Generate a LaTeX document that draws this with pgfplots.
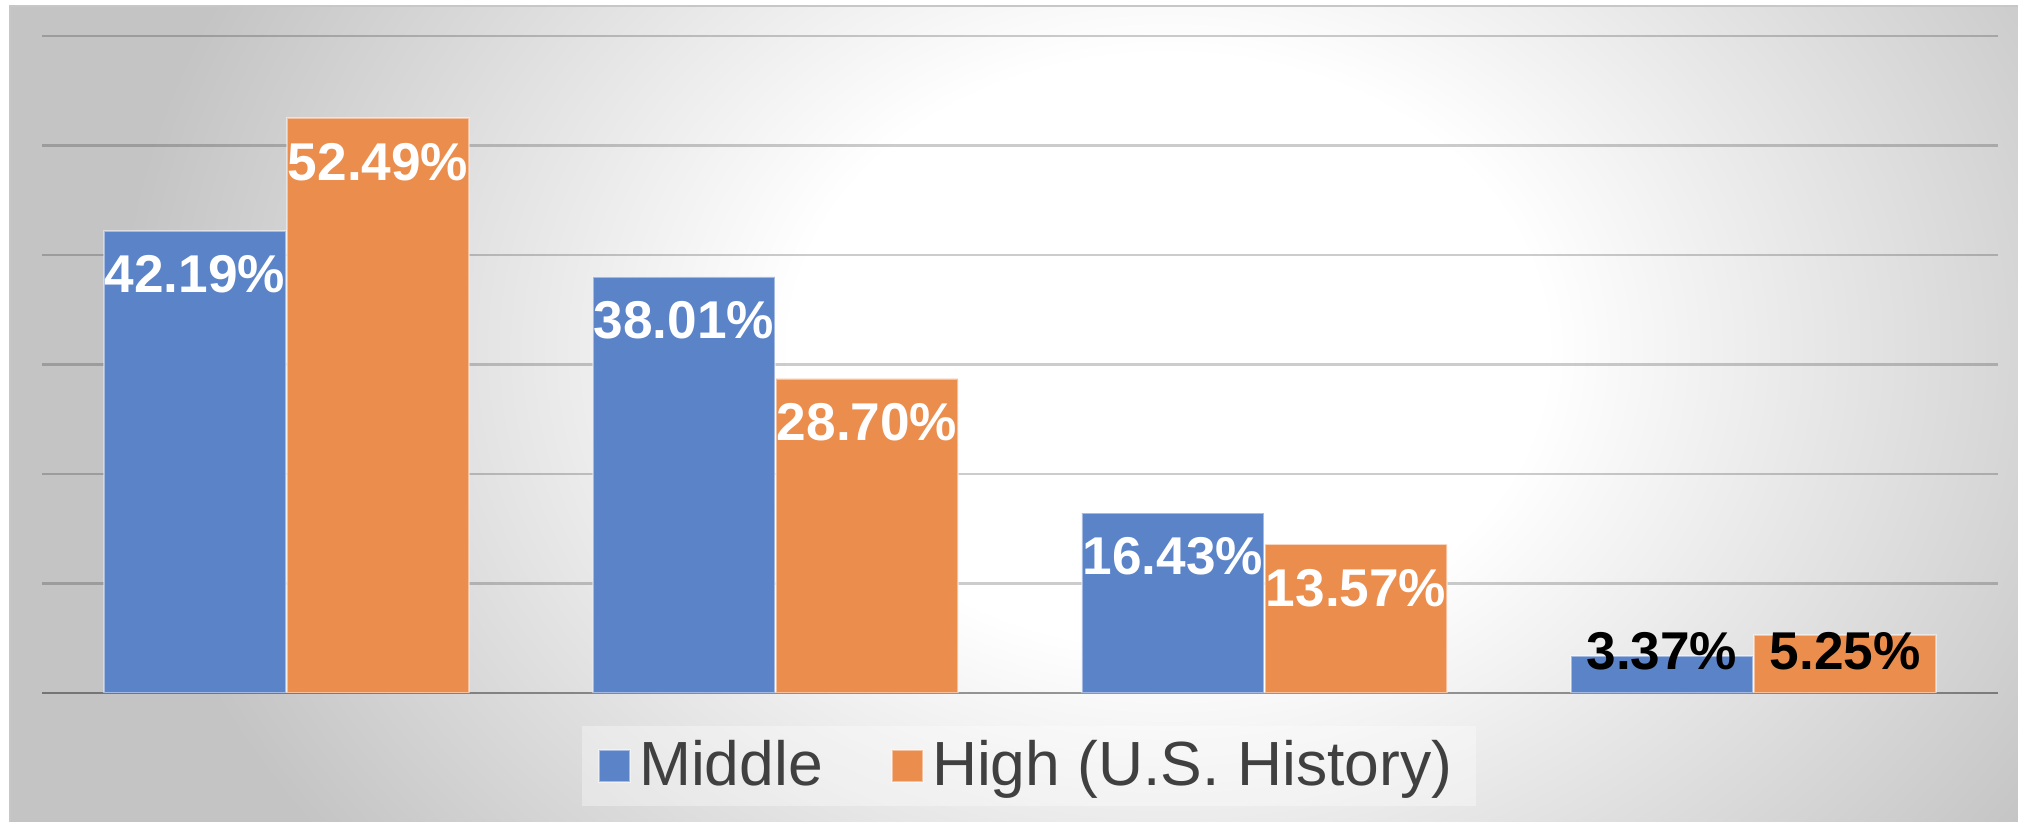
\documentclass[border=0pt]{standalone}
\usepackage{fontspec}
\setmainfont{Liberation Sans}
\usepackage{pgfplots}
\pgfplotsset{compat=1.18}

\definecolor{barblue}{RGB}{91,131,200}
\definecolor{barorange}{RGB}{235,141,77}
\definecolor{legtext}{RGB}{64,64,64}
\definecolor{bgedge}{rgb}{0.77,0.77,0.77}
\pgfdeclareradialshading{panelbg}{\pgfpoint{0bp}{0bp}}{rgb(0bp)=(1,1,1); rgb(9bp)=(1,1,1); rgb(25bp)=(0.77,0.77,0.77); rgb(50bp)=(0.77,0.77,0.77)}

% 1 px of the reference = 0.25pt; 10% on the y axis = 27.375pt
\pgfplotsset{
  barstyle/.style={ybar, bar width=45.5pt, draw=white, draw opacity=0.45, line width=0.5pt},
  pct/.style={nodes near coords={\pgfmathprintnumber[fixed,fixed zerofill,precision=2,assume math mode=true]{\pgfplotspointmeta}\%}},
  lab/.style={every node near coord/.append style={anchor=center, font=\fontsize{13.3}{15}\selectfont\bfseries, text=#1, inner sep=0pt}},
  sq/.style={legend image code/.code={\draw[##1, fill opacity=1, draw opacity=0.45] (0pt,-3.9pt) rectangle (7.8pt,3.9pt);}},
}

\begin{document}
\begin{tikzpicture}
\fill[white] (0,0) rectangle (504.5pt,205.5pt);
\begin{scope}
  \clip (2.5pt,0pt) rectangle (504.5pt,204pt);
  \fill[bgedge] (2.5pt,0pt) rectangle (504.5pt,204pt);
  \shade[shading=panelbg] (292pt,118pt) ellipse (262pt and 205pt);
\end{scope}
\draw[black!22, line width=0.6pt] (2.5pt,0pt) -- (2.5pt,204pt) -- (504.5pt,204pt);

\begin{axis}[
  at={(10.5pt,32.25pt)}, anchor=south west,
  scale only axis, width=489pt, height=164.25pt,
  xmin=-0.5, xmax=3.5, ymin=0, ymax=60,
  xtick=\empty, ytick={10,20,...,60}, yticklabels={},
  extra y ticks={0}, extra y tick labels={},
  extra y tick style={grid style={black, opacity=0.4, line width=0.6pt}},
  ymajorgrids, grid style={black, opacity=0.2, line width=0.55pt},
  axis line style={draw=none}, major tick length=0pt,
  legend columns=2,
  legend style={at={(0.5046,-0.111)}, anchor=center, draw=none,
    fill=white, fill opacity=0.35, text opacity=1,
    inner xsep=4pt, inner ysep=2.5pt,
    font=\fontsize{15.6}{18}\selectfont, text=legtext,
    nodes={inner xsep=2pt, inner ysep=1pt},
    /tikz/every even column/.append style={column sep=15pt}},
]
\addplot[barstyle, bar shift=-22.9pt, fill=barblue, sq, pct, lab=white,
  every node near coord/.append style={xshift=-22.9pt, yshift=-10.9pt}]
  coordinates {(0,42.19) (1,38.01) (2,16.43)};
\addlegendentry{Middle}
\addplot[barstyle, bar shift=22.9pt, fill=barorange, sq, pct, lab=white,
  every node near coord/.append style={xshift=22.9pt, yshift=-10.9pt}]
  coordinates {(0,52.49) (1,28.70) (2,13.57)};
\addlegendentry{High (U.S. History)}
% short bars: labels in black, at a common height
\addplot[barstyle, bar shift=-22.9pt, fill=barblue, pct, lab=black, forget plot,
  every node near coord/.append style={xshift=-22.9pt, yshift={(3.84-3.37)*2.7375pt}}]
  coordinates {(3,3.37)};
\addplot[barstyle, bar shift=22.9pt, fill=barorange, pct, lab=black, forget plot,
  every node near coord/.append style={xshift=22.9pt, yshift={(3.84-5.25)*2.7375pt}}]
  coordinates {(3,5.25)};
\end{axis}
\pgfresetboundingbox
\useasboundingbox (0,0) rectangle (504.5pt,205.5pt);
\end{tikzpicture}
\end{document}
